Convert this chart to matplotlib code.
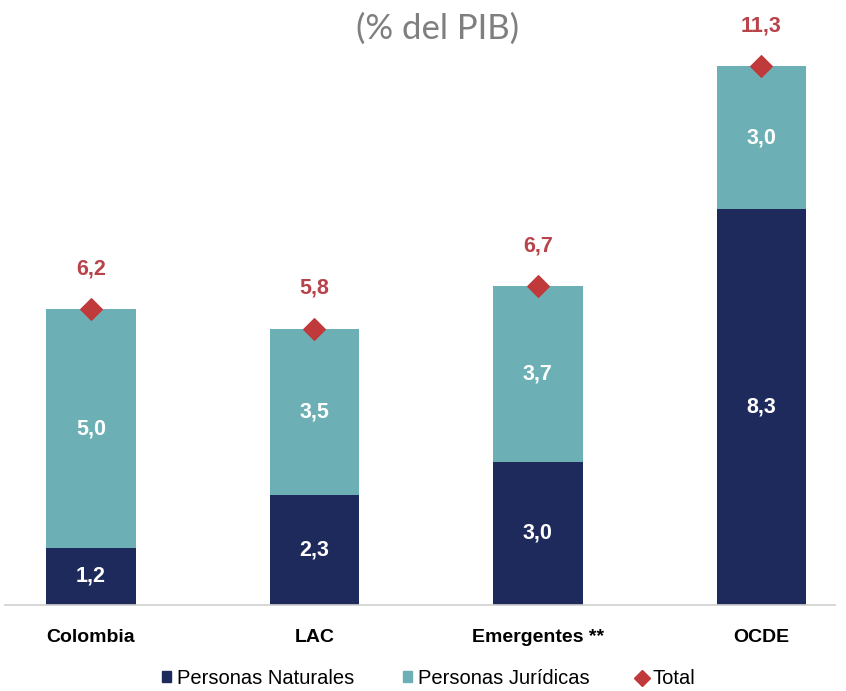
import numpy as np
import matplotlib.pyplot as plt
from matplotlib.lines import Line2D
from matplotlib.patches import Patch

plt.rcParams['font.family'] = ['Liberation Sans', 'DejaVu Sans']

categorias = ['Colombia', 'LAC', 'Emergentes **', 'OCDE']
naturales = [1.2, 2.3, 3.0, 8.3]
juridicas = [5.0, 3.5, 3.7, 3.0]
total = [6.2, 5.8, 6.7, 11.3]

c_nat = '#1f2a5c'
c_jur = '#6cb0b6'
c_tot = '#c0393b'
c_lbl = '#b8434a'

fig = plt.figure(figsize=(8.46, 6.91), dpi=100)
ax = fig.add_axes([5 / 846, 86 / 691, 830 / 846, 572 / 691])

x = np.arange(len(categorias))
w = 0.4
ax.bar(x, naturales, w, color=c_nat, zorder=2)
ax.bar(x, juridicas, w, bottom=naturales, color=c_jur, zorder=2)
ax.scatter(x, total, marker='D', s=120, color=c_tot, zorder=3)

fmt = lambda v: f'{v:.1f}'.replace('.', ',')
for i in range(len(x)):
    ax.text(x[i], naturales[i] / 2, fmt(naturales[i]), ha='center', va='center',
            color='white', fontsize=15.5, fontweight='bold')
    ax.text(x[i], naturales[i] + juridicas[i] / 2, fmt(juridicas[i]), ha='center',
            va='center', color='white', fontsize=15.5, fontweight='bold')
    ax.text(x[i], total[i] + 0.62, fmt(total[i]), ha='center', va='bottom',
            color=c_lbl, fontsize=15.5, fontweight='bold')

ax.set_xlim(-0.385, 3.33)
ax.set_ylim(0, 12)
ax.set_xticks(x)
ax.set_xticklabels(categorias, fontsize=14, fontweight='bold')
ax.tick_params(axis='x', length=0, pad=17)
ax.set_yticks([])
for s in ['top', 'right', 'left']:
    ax.spines[s].set_visible(False)
ax.spines['bottom'].set_color('#d0d0d0')
ax.spines['bottom'].set_linewidth(1.2)

fig.text(0.517, 0.958, '(% del PIB)', ha='center', va='center',
         fontsize=25, color='#7f7f7f', family=['Lato', 'DejaVu Sans'])

handles = [Patch(color=c_nat), Patch(color=c_jur),
           Line2D([], [], marker='D', color=c_tot, linestyle='none', markersize=8)]
fig.legend(handles, ['Personas Naturales', 'Personas Jurídicas', 'Total'],
           loc='center', bbox_to_anchor=(0.507, 0.018), ncol=3, frameon=False,
           fontsize=14.5, handlelength=0.45, handleheight=0.45, handletextpad=0.3,
           columnspacing=2.4)

fig.savefig('out.png', dpi=100)
